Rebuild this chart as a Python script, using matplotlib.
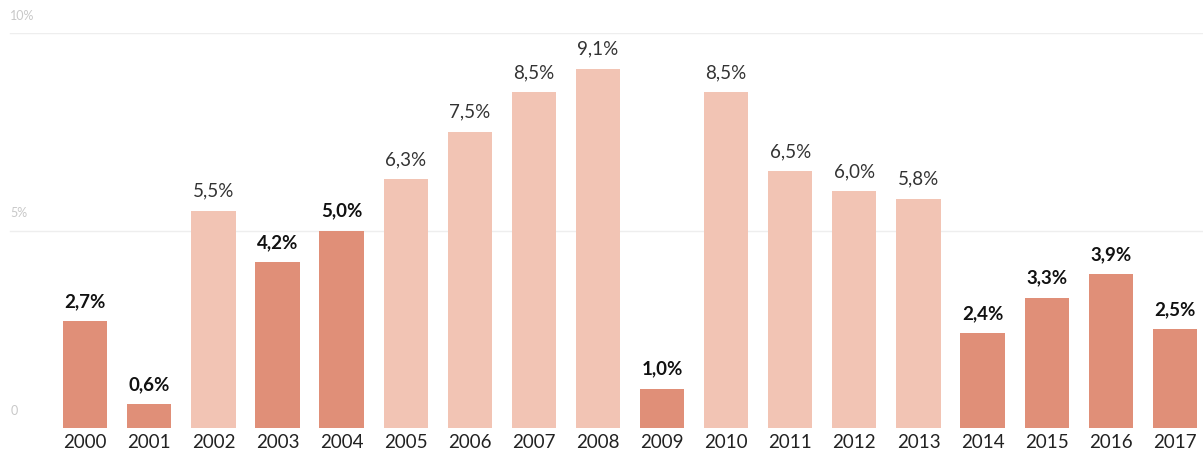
import matplotlib.pyplot as plt

plt.rcParams['font.family'] = ['Lato', 'DejaVu Sans']

years = [str(y) for y in range(2000, 2018)]
values = [2.7, 0.6, 5.5, 4.2, 5.0, 6.3, 7.5, 8.5, 9.1, 1.0, 8.5, 6.5, 6.0, 5.8, 2.4, 3.3, 3.9, 2.5]
highlight = [True, True, False, True, True, False, False, False, False, True,
             False, False, False, False, True, True, True, True]
yticks = [0, 5, 10]
ytick_labels = ['0', '5%', '10%']

DARK = '#E08F78'
LIGHT = '#F2C4B4'

fig = plt.figure(figsize=(12.03, 4.61), dpi=100)
ax = fig.add_axes([0, 33 / 461, 1, (428 - 33) / 461])

x = list(range(len(years)))
colors = [DARK if h else LIGHT for h in highlight]
ax.bar(x, values, width=0.69, color=colors, zorder=2)

for xi, v, h in zip(x, values, highlight):
    label = f'{v:.1f}%'.replace('.', ',')
    ax.text(xi, v + 0.28, label, ha='center', va='bottom', fontsize=13.5,
            fontweight='bold' if h else 'normal',
            color='#111111' if h else '#333333')

for t, lab in zip(yticks, ytick_labels):
    if t > 0:
        ax.axhline(t, xmin=0.008, color='#eeeeee', lw=1, zorder=1)
    ax.text(-1.17, t + 0.28, lab, ha='left', va='bottom', fontsize=9, color='#c8c8c8')

ax.set_xlim(-1.33, 17.44)
ax.set_ylim(0, 10)
ax.set_xticks(x)
ax.set_xticklabels(years, fontsize=13.5, color='#222222')
ax.tick_params(axis='x', length=0, pad=4)
ax.set_yticks([])
for s in ax.spines.values():
    s.set_visible(False)

fig.savefig('out.png', dpi=100, facecolor='white')
